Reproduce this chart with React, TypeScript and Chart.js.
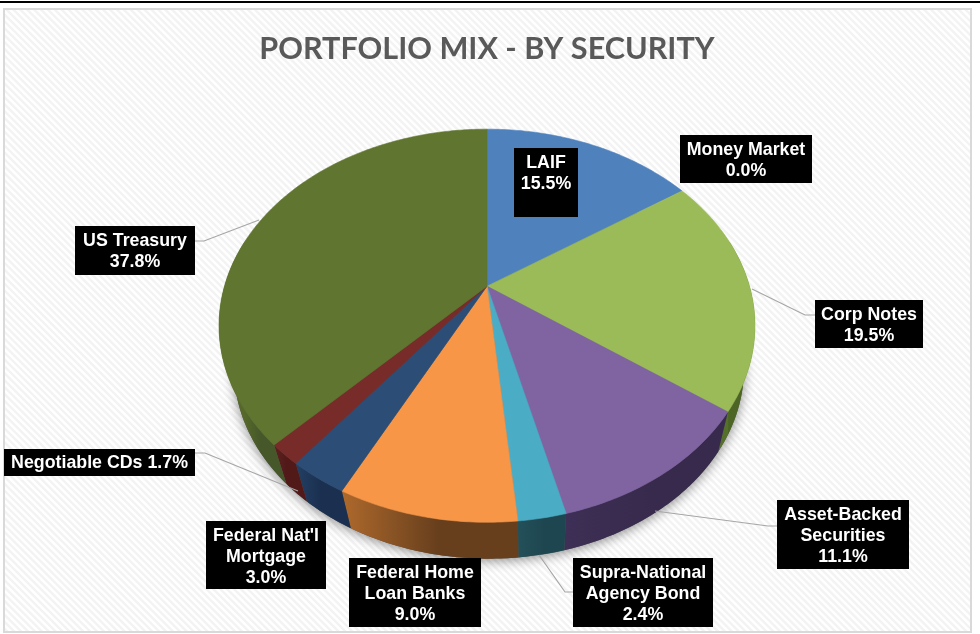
import React, { useEffect, useRef } from "react";
import { Chart, registerables } from "chart.js";

Chart.register(...registerables);

const categories = ["LAIF", "Money Market", "Corp Notes", "Asset-Backed Securities", "Supra-National Agency Bond", "Federal Home Loan Banks", "Federal Nat'l Mortgage", "Negotiable CDs", "US Treasury"];
const shares = [15.5, 0.0, 19.5, 11.1, 2.4, 9.0, 3.0, 1.7, 37.8];
const labelLines = [["LAIF"], ["Money Market"], ["Corp Notes"], ["Asset-Backed", "Securities"], ["Supra-National", "Agency Bond"], ["Federal Home", "Loan Banks"], ["Federal Nat'l", "Mortgage"], ["Negotiable CDs"], ["US Treasury"]];
const titleText = "PORTFOLIO MIX - BY SECURITY";

const topColors = ["#4f81bd", "#4bacc6", "#9bbb59", "#8064a2", "#4bacc6", "#f79646", "#2c4d75", "#772c2a", "#5f7530"];
const sideLight = ["#2f4d71", "#2d6776", "#55702a", "#3d2f55", "#235059", "#ae692c", "#223f63", "#5e211f", "#56692a"];
const sideDark = ["#2f4d71", "#2d6776", "#4c6524", "#382a4c", "#1e4650", "#673f1d", "#1b3050", "#511a19", "#46572a"];

// label box: x, y, w, h; leader: polyline from the pie to the box
const boxes = [
  { x: 514, y: 148, w: 64, h: 69, leader: null },
  { x: 680, y: 135, w: 132, h: 48, leader: null },
  { x: 815, y: 300, w: 108, h: 48, leader: [[752, 289], [805, 315], [815, 315]] },
  { x: 777, y: 500, w: 132, h: 69, leader: [[655, 511], [768, 526], [777, 526]] },
  { x: 573, y: 558, w: 140, h: 69, leader: [[539, 555], [565, 592], [573, 592]] },
  { x: 349, y: 558, w: 132, h: 69, leader: null },
  { x: 206, y: 521, w: 120, h: 68, leader: null },
  { x: 4, y: 449, w: 191, h: 27, leader: [[298, 491], [205, 453], [195, 453]], inline: true },
  { x: 75, y: 226, w: 120, h: 49, leader: [[259, 220], [204, 241], [195, 241]] },
];

const PERSP = -0.2012;
const SQUASH = 0.7185;
// projected top-face ellipse centre lies below the apex; the base is a shrunken copy of the top face
const TOP_MID_DY = 39.5;
const BASE_DX = 2;
const BASE_DY = 82;
const BASE_SX = 0.9515;
const BASE_SY = 0.969;
const SIDE_START = -0.25;
const SIDE_END = Math.PI + 0.25;

function projTop(el: any, a: number): [number, number] {
  const ux = Math.cos(a);
  const uy = Math.sin(a);
  const den = 1 + PERSP * uy;
  return [el.x + (el.outerRadius * ux) / den, el.y + (el.outerRadius * SQUASH * uy) / den];
}

function projBase(el: any, a: number): [number, number] {
  const [x, y] = projTop(el, a);
  const midY = el.y + TOP_MID_DY;
  return [el.x + BASE_DX + (x - el.x) * BASE_SX, midY + BASE_DY - TOP_MID_DY + 0 + (y - midY) * BASE_SY];
}

function tracePoints(ctx: CanvasRenderingContext2D, fn: (a: number) => [number, number], a: number, b: number, first: boolean) {
  const n = Math.max(2, Math.ceil(Math.abs(b - a) * 80));
  for (let i = 0; i <= n; i++) {
    const [x, y] = fn(a + ((b - a) * i) / n);
    if (first && i === 0) ctx.moveTo(x, y);
    else ctx.lineTo(x, y);
  }
}

const backdrop = {
  id: "backdrop",
  beforeDraw(chart: any) {
    const ctx: CanvasRenderingContext2D = chart.ctx;
    ctx.save();
    ctx.fillStyle = "#ffffff";
    ctx.fillRect(0, 0, chart.width, chart.height);
    ctx.fillStyle = "#000000";
    ctx.fillRect(0, 1, chart.width, 2);
    ctx.beginPath();
    ctx.rect(4, 9, 967, 623);
    ctx.clip();
    ctx.strokeStyle = "#f3f3f3";
    ctx.lineWidth = 2.4;
    for (let x = -700; x < 1000; x += 6.9) {
      ctx.beginPath();
      ctx.moveTo(x, 0);
      ctx.lineTo(x + 640, 640);
      ctx.stroke();
    }
    ctx.restore();
    ctx.save();
    ctx.strokeStyle = "#d9d9d9";
    ctx.lineWidth = 2;
    ctx.strokeRect(4, 9, 967, 623);
    ctx.restore();
  },
};

const pie3d = {
  id: "pie3d",
  beforeDatasetDraw(chart: any, args: any) {
    const ctx: CanvasRenderingContext2D = chart.ctx;
    const arcs: any[] = args.meta.data;
    const ref = arcs[0];
    const base = (a: number) => projBase(ref, a);
    ctx.save();
    // soft shadow of the body
    ctx.save();
    ctx.shadowColor = "rgba(0,0,0,0.45)";
    ctx.shadowBlur = 12;
    ctx.shadowOffsetY = 2;
    ctx.fillStyle = "#555555";
    ctx.beginPath();
    tracePoints(ctx, base, 0, Math.PI * 2, true);
    ctx.closePath();
    ctx.fill();
    ctx.restore();
    // side wall
    arcs.forEach((el, i) => {
      const a = Math.max(el.startAngle, SIDE_START);
      const b = Math.min(el.endAngle, SIDE_END);
      if (b <= a) return;
      const xa = projTop(el, a)[0];
      const xb = projTop(el, b)[0];
      const grad = ctx.createLinearGradient(Math.min(xa, xb), 0, Math.max(xa, xb), 0);
      grad.addColorStop(0, sideLight[i]);
      grad.addColorStop(0.55, sideDark[i]);
      grad.addColorStop(1, sideDark[i]);
      ctx.fillStyle = grad;
      ctx.strokeStyle = sideDark[i];
      ctx.lineWidth = 0.5;
      ctx.beginPath();
      tracePoints(ctx, (t) => projTop(el, t), a, b, true);
      tracePoints(ctx, (t) => projBase(el, t), b, a, false);
      ctx.closePath();
      ctx.fill();
    });
    // top surface
    arcs.forEach((el) => {
      if (el.endAngle - el.startAngle <= 0) return;
      ctx.beginPath();
      ctx.moveTo(el.x, el.y);
      tracePoints(ctx, (t) => projTop(el, t), el.startAngle, el.endAngle, false);
      ctx.closePath();
      ctx.fillStyle = el.options.backgroundColor;
      ctx.strokeStyle = el.options.backgroundColor;
      ctx.lineWidth = 0.6;
      ctx.fill();
      ctx.stroke();
    });
    ctx.restore();
    return false;
  },
};

const callouts = {
  id: "callouts",
  afterDatasetsDraw(chart: any) {
    const ctx: CanvasRenderingContext2D = chart.ctx;
    ctx.save();
    boxes.forEach((box, i) => {
      if (box.leader) {
        ctx.strokeStyle = "#a6a6a6";
        ctx.lineWidth = 1.2;
        ctx.beginPath();
        box.leader.forEach(([x, y], k) => (k === 0 ? ctx.moveTo(x, y) : ctx.lineTo(x, y)));
        ctx.stroke();
      }
      ctx.fillStyle = "#000000";
      ctx.fillRect(box.x, box.y, box.w, box.h);
      const value = `${shares[i].toFixed(1)}%`;
      const lines = box.inline ? [`${labelLines[i][0]} ${value}`] : [...labelLines[i], value];
      ctx.fillStyle = "#ffffff";
      ctx.font = "bold 17.8px 'Liberation Sans'";
      ctx.textAlign = "center";
      ctx.textBaseline = "middle";
      lines.forEach((line, k) => {
        ctx.fillText(line, box.x + box.w / 2, box.y + (box.inline ? 14.5 : 15.5) + k * 21);
      });
    });
    ctx.restore();
  },
};

export default function App() {
  const ref = useRef<HTMLCanvasElement | null>(null);
  useEffect(() => {
    const chart = new Chart(ref.current as HTMLCanvasElement, {
      type: "pie",
      data: {
        labels: categories,
        datasets: [{ data: shares, backgroundColor: topColors, borderWidth: 0 }],
      },
      options: {
        animation: false,
        responsive: false,
        radius: 262.5,
        layout: { padding: { left: 219, right: 225, top: 0, bottom: 129 } },
        plugins: {
          legend: { display: false },
          tooltip: { enabled: false },
          title: {
            display: true,
            text: titleText,
            color: "#595959",
            font: { family: "Lato", size: 30.6, weight: "bold" },
            padding: { top: 30.6, bottom: 0 },
          },
        },
      },
      plugins: [backdrop, pie3d, callouts],
    } as any);
    return () => chart.destroy();
  }, []);
  return (
    <div style={{ position: "absolute", left: 0, top: 0 }}>
      <canvas ref={ref} width={980} height={634} style={{ display: "block" }} />
    </div>
  );
}
